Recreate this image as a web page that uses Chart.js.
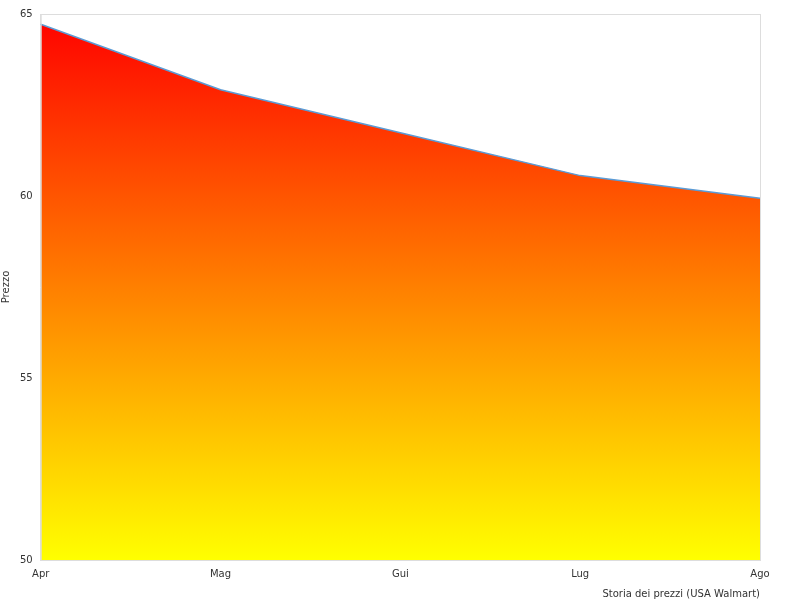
<!DOCTYPE html>
<html><head><meta charset="utf-8">
<script src="https://cdn.jsdelivr.net/npm/chart.js@4"></script>
<style>html,body{margin:0;background:#fff}#w{width:800px;height:600px}</style>
</head><body><div id="w"><canvas id="c"></canvas></div>
<script>
const categories = ["Apr","Mag","Gui","Lug","Ago"];
const prices = [64.72, 62.92, 61.74, 60.56, 59.94];
const yTicks = [50,55,60,65];
Chart.defaults.font.family = "DejaVu Sans";
Chart.defaults.font.size = 10;
Chart.defaults.color = "#333";
new Chart(document.getElementById('c'), {
  type: 'line',
  data: { labels: categories, datasets: [{
    data: prices, borderColor: '#5b9bd5', borderWidth: 1.5, pointRadius: 0, tension: 0, fill: 'origin',
    backgroundColor: (ctx) => {
      const a = ctx.chart.chartArea; if (!a) return 'red';
      const g = ctx.chart.ctx.createLinearGradient(0, a.top, 0, a.bottom);
      g.addColorStop(0, '#ff0000'); g.addColorStop(1, '#ffff00'); return g;
    }
  }]},
  options: {
    responsive: true, maintainAspectRatio: false, animation: false,
    layout: { padding: { top: 14, right: 40, left: 0, bottom: 0 } },
    plugins: { legend: { display: false }, tooltip: { enabled: false } },
    scales: {
      x: { grid: { display: false, drawTicks: false }, border: { color: '#ddd' },
           ticks: { padding: 8, maxRotation: 0 },
           title: { display: true, text: 'Storia dei prezzi (USA Walmart)', align: 'end', padding: 0 } },
      y: { min: 50, max: 65, grid: { display: false, drawTicks: false }, border: { color: '#ddd' },
           afterBuildTicks: ax => { ax.ticks = yTicks.map(v => ({ value: v })); },
           ticks: { padding: 8 },
           title: { display: true, text: 'Prezzo', padding: 0 } }
    }
  },
  plugins: [{ id: 'frame', afterDraw(c) { const a = c.chartArea, x = c.ctx;
    x.save(); x.strokeStyle = '#ddd'; x.lineWidth = 1; x.strokeRect(a.left + .5, a.top + .5, a.width, a.height); x.restore(); } }]
});
</script></body></html>
